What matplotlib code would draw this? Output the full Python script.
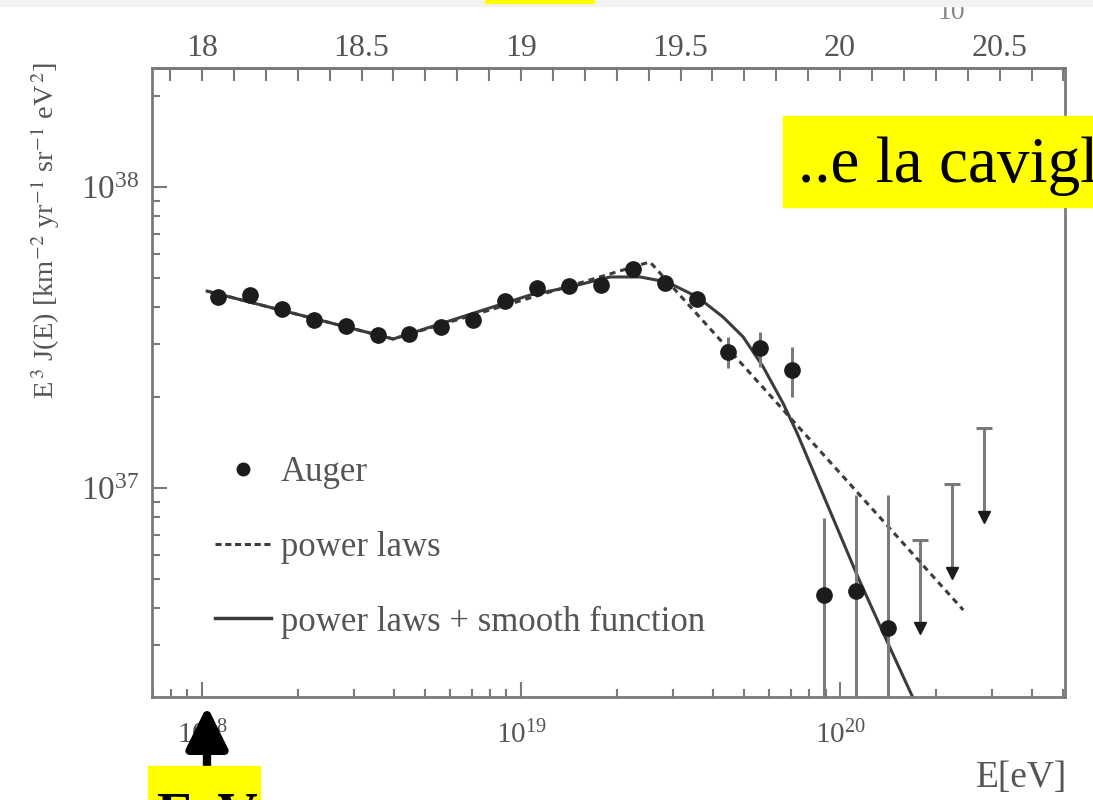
import numpy as np
import matplotlib.pyplot as plt
from matplotlib.patches import Rectangle
from matplotlib.lines import Line2D
from matplotlib.ticker import LogLocator, MultipleLocator, FuncFormatter, NullFormatter, LogFormatterMathtext

plt.rcParams['font.family'] = ['Liberation Serif', 'DejaVu Serif']
plt.rcParams['mathtext.fontset'] = 'stix'

# Auger points: log10(E/eV) and log10(E^3 J)
log_e = [18.05, 18.15, 18.25, 18.35, 18.45, 18.55, 18.65, 18.75, 18.85, 18.95, 19.05,
         19.15, 19.25, 19.35, 19.45, 19.55, 19.65, 19.75, 19.85, 19.95, 20.05, 20.15]
log_flux = [37.635, 37.641, 37.595, 37.558, 37.538, 37.508, 37.512, 37.535, 37.558, 37.621, 37.664,
            37.671, 37.674, 37.728, 37.681, 37.628, 37.452, 37.465, 37.392, 36.645, 36.658, 36.535]
err_hi = [37.635, 37.641, 37.595, 37.558, 37.538, 37.508, 37.512, 37.535, 37.558, 37.621, 37.664,
          37.671, 37.674, 37.728, 37.681, 37.628, 37.502, 37.518, 37.468, 36.900, 36.977, 36.977]
err_lo = [37.635, 37.641, 37.595, 37.558, 37.538, 37.508, 37.512, 37.535, 37.558, 37.621, 37.664,
          37.671, 37.674, 37.728, 37.681, 37.628, 37.399, 37.402, 37.302, 36.0, 36.0, 36.0]

# upper limits
lim_e = [20.25, 20.35, 20.45]
lim_top = [36.827, 37.013, 37.199]
lim_val = [36.535, 36.718, 36.904]

# fits
pl_e = [18.016, 18.599, 19.404, 20.386]
pl_flux = [37.654, 37.495, 37.751, 36.595]
sm_e = [18.016, 18.599, 19.028, 19.154, 19.279, 19.373, 19.458, 19.552, 19.633, 19.696,
        19.759, 19.821, 19.865, 20.056, 20.157, 20.229]
sm_flux = [37.654, 37.495, 37.641, 37.668, 37.701, 37.701, 37.684, 37.635, 37.568, 37.502,
           37.402, 37.282, 37.183, 36.704, 36.468, 36.302]

top_ticks = [18, 18.5, 19, 19.5, 20, 20.5]

txt = '#555555'
grey = '#7a7a7a'
dark = '#1c1c1c'
line_c = '#3c3c3c'

fig = plt.figure(figsize=(10.93, 8), dpi=100)
ax = fig.add_axes([152 / 1093, 1 - 697 / 800, 913 / 1093, 629 / 800])

E = 10 ** np.array(log_e)
F = 10 ** np.array(log_flux)
yerr = [F - 10 ** np.array(err_lo), 10 ** np.array(err_hi) - F]
ax.errorbar(E, F, yerr=yerr, fmt='o', color=dark, ms=11, ecolor=grey, elinewidth=2.2, capsize=0, zorder=3)

LE = 10 ** np.array(lim_e)
ax.vlines(LE, 10 ** np.array(lim_val), 10 ** np.array(lim_top), color=grey, lw=2.2)
ax.plot(LE, 10 ** np.array(lim_top), ls='', marker='_', ms=12, mew=2.2, color=grey)
ax.plot(LE, 10 ** np.array(lim_val), ls='', marker='v', ms=9, color=dark)

ax.plot(10 ** np.array(pl_e), 10 ** np.array(pl_flux), ls=(0, (2, 1.6)), lw=2.2, color=line_c, zorder=2)
ax.plot(10 ** np.array(sm_e), 10 ** np.array(sm_flux), ls='-', lw=2.2, color=line_c, zorder=2)

ax.set_xscale('log')
ax.set_yscale('log')
ax.set_xlim(10 ** 17.843, 10 ** 20.705)
ax.set_ylim(10 ** 36.306, 10 ** 38.395)

for a in (ax.xaxis, ax.yaxis):
    a.set_major_locator(LogLocator(base=10, numticks=10))
    a.set_minor_locator(LogLocator(base=10, subs=np.arange(2, 10), numticks=20))
    a.set_minor_formatter(NullFormatter())
    a.set_major_formatter(LogFormatterMathtext())
ax.tick_params(which='both', direction='in', top=False, right=False, color=grey, width=1.5,
               labelcolor=txt)
ax.tick_params(which='major', length=11)
ax.tick_params(which='minor', length=6)
ax.tick_params(axis='x', pad=17, labelsize=21)
ax.tick_params(axis='y', pad=9, labelsize=24)
for s in ax.spines.values():
    s.set_color(grey)
    s.set_linewidth(2)

secax = ax.secondary_xaxis('top', functions=(np.log10, lambda v: 10 ** v))
secax.set_xticks(top_ticks)
secax.xaxis.set_minor_locator(MultipleLocator(0.1))
secax.xaxis.set_major_formatter(FuncFormatter(lambda v, p: f"{v:g}"))
secax.xaxis.set_minor_formatter(NullFormatter())
secax.tick_params(which='both', direction='in', length=9, width=1.5, color=grey,
                  labelcolor=txt, labelsize=23, pad=3.5)
secax.spines['top'].set_color(grey)
secax.spines['top'].set_linewidth(2)

handles = [
    Line2D([], [], ls='', marker='o', ms=9, color=dark),
    Line2D([], [], ls=(0, (2, 1.2)), lw=2.2, color=line_c),
    Line2D([], [], ls='-', lw=2.5, color=line_c),
]
ax.legend(handles, ['Auger', 'power laws', 'power laws + smooth function'], loc='upper left',
          bbox_to_anchor=(0.069, 0.383), frameon=False, fontsize=25, labelcolor=txt,
          handlelength=1.6, handletextpad=0.3, labelspacing=1.2, borderpad=0, borderaxespad=0)

fig.text(45 / 1093, 1 - 230 / 800,
         r'E$^{\,3}$ J(E) [km$^{-2}$ yr$^{-1}$ sr$^{-1}$ eV$^{\,2}$]',
         rotation=90, ha='center', va='center', fontsize=20.5, color=txt)
fig.text(1067 / 1093, 1 - 778 / 800, 'E[eV]', ha='right', va='center', fontsize=27, color=txt)

# slide overlays
fig.patches.append(Rectangle((783 / 1093, 1 - 207 / 800), 310 / 1093, 91 / 800,
                             transform=fig.transFigure, color='#ffff00', zorder=5))
fig.text(798 / 1093, 1 - 182 / 800, '..e la caviglia', ha='left', va='baseline',
         fontsize=47, color='black', zorder=6)
fig.patches.append(Rectangle((148 / 1093, 0), 112 / 1093, 34 / 800,
                             transform=fig.transFigure, color='#ffff00', zorder=5))
fig.text(156 / 1093, -31 / 800, 'EeV', ha='left', va='baseline', fontsize=40,
         fontweight='bold', color='black', zorder=6)
ax.annotate('', xy=(207, 800 - 706), xytext=(207, 800 - 767), xycoords='figure pixels',
            textcoords='figure pixels', annotation_clip=False,
            arrowprops=dict(arrowstyle='-|>,head_length=0.85,head_width=0.42', lw=6,
                            color='black', mutation_scale=30, shrinkA=0, shrinkB=0))
fig.text(951 / 1093, 1 - 25 / 800, '10', ha='center', va='bottom', fontsize=20, color='#888888', zorder=3)
fig.patches.append(Rectangle((0, 1 - 6 / 800), 1, 6 / 800, transform=fig.transFigure,
                             color='#f2f2f2', zorder=7))
fig.patches.append(Rectangle((485 / 1093, 1 - 3 / 800), 109 / 1093, 3 / 800,
                             transform=fig.transFigure, color='#ffff00', zorder=8))

fig.savefig('out.png', dpi=100)
